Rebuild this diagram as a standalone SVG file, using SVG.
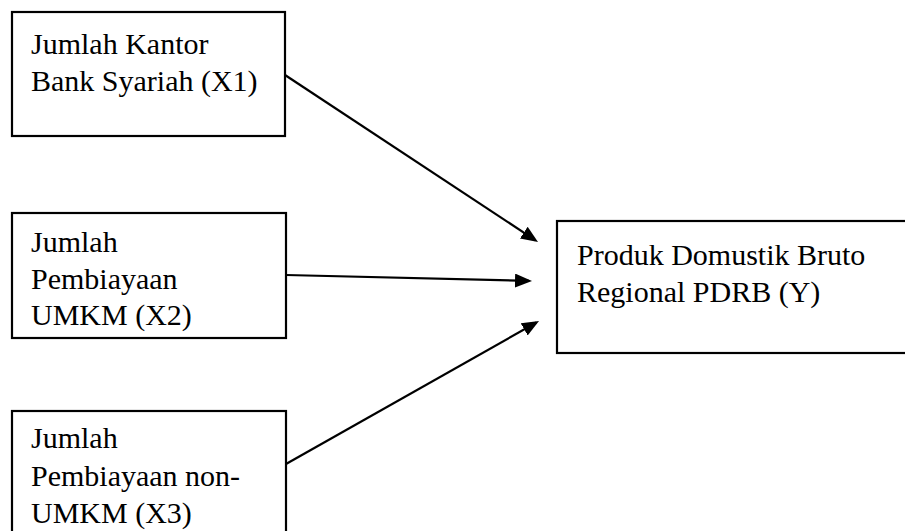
<svg xmlns="http://www.w3.org/2000/svg" width="905" height="531" viewBox="0 0 905 531">
<style>
.box{fill:#fff;stroke:#000;stroke-width:2.2}
.t{font-family:"Liberation Serif","Times New Roman",serif;font-size:30px;fill:#000}
.c{stroke:#000;stroke-width:2.2;fill:none}
</style>
<defs>
<marker id="ah" markerUnits="userSpaceOnUse" markerWidth="17" markerHeight="14" refX="14" refY="7" orient="auto">
<path d="M0,0 L17,7 L0,14 z" fill="#000"/>
</marker>
</defs>
<rect width="905" height="531" fill="#fff"/>
<g id="x1">
<rect class="box" x="12" y="12" width="273" height="124"/>
<text class="t" x="31" y="54">Jumlah Kantor</text>
<text class="t" x="31" y="91">Bank Syariah (X1)</text>
</g>
<g id="x2">
<rect class="box" x="12" y="213" width="274" height="125"/>
<text class="t" x="31" y="252">Jumlah</text>
<text class="t" x="31" y="288.5">Pembiayaan</text>
<text class="t" x="31" y="325">UMKM (X2)</text>
</g>
<g id="x3">
<rect class="box" x="12" y="411" width="274" height="130"/>
<text class="t" x="31" y="448">Jumlah</text>
<text class="t" x="31" y="486">Pembiayaan non-</text>
<text class="t" x="31" y="523">UMKM (X3)</text>
</g>
<g id="y">
<rect class="box" x="557" y="221" width="360" height="132"/>
<text class="t" x="577" y="265">Produk Domustik Bruto</text>
<text class="t" x="577" y="302">Regional PDRB (Y)</text>
</g>
<g id="connectors">
<line class="c" x1="285" y1="75" x2="535.5" y2="240.3" marker-end="url(#ah)"/>
<line class="c" x1="286" y1="275" x2="529" y2="280.9" marker-end="url(#ah)"/>
<line class="c" x1="286" y1="464" x2="536.4" y2="322.5" marker-end="url(#ah)"/>
</g>
</svg>
